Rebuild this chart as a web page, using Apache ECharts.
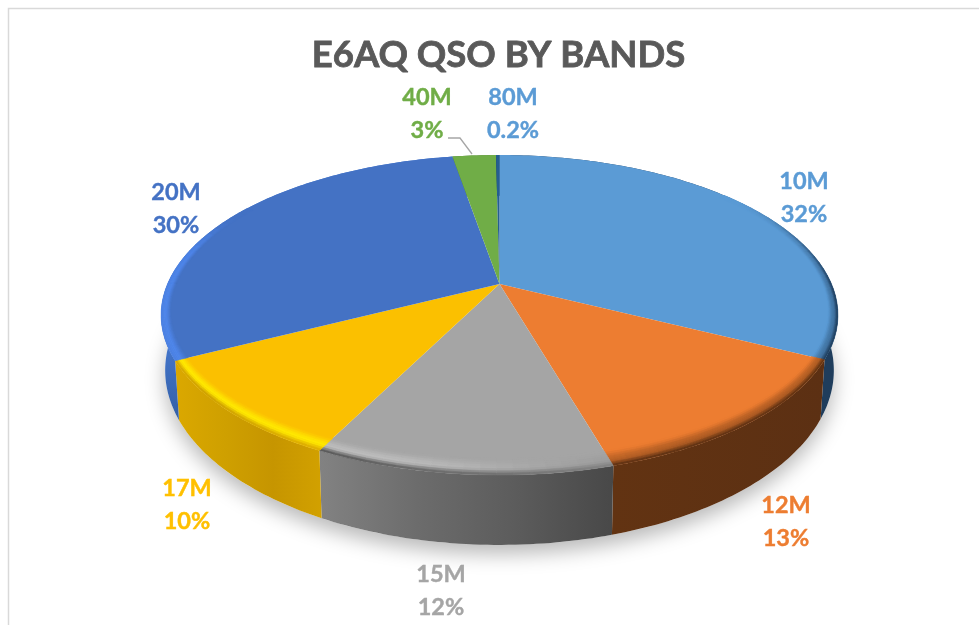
<!DOCTYPE html>
<html><head><meta charset="utf-8">
<style>html,body{margin:0;padding:0;background:#fff}#c{width:979px;height:625px}</style>
<script src="https://cdn.jsdelivr.net/npm/echarts@6/dist/echarts.min.js"></script>
</head><body><div id="c"></div>
<script>
// ---- data ----
const titleText = 'E6AQ QSO BY BANDS';
const bands  = ['10M','12M','15M','17M','20M','40M','80M'];
const values = [32.4, 13.1, 11.9, 10.1, 29.8, 2.5, 0.2];
// ---- styles ----
const topColors   = ['#5B9BD5','#ED7D31','#A5A5A5','#FBC000','#4472C4','#70AD47','#255E91'];
const labelColors = ['#5B9BD5','#ED7D31','#A5A5A5','#FFC000','#4472C4','#70AD47','#5B9BD5'];
const wallStops = [
  ['#1f3d5c','#1f3d5c'],
  ['#623312','#5c3013'],
  ['#828282','#6c6c6c','#5c5c5c','#484848'],
  ['#dba800','#cfa000','#c69500','#d2a100'],
  ['#3b66ae','#3b66ae'],
  ['#4a7a30','#4a7a30'],
  ['#173d5f','#173d5f']
];
const bevelHi = ['#5B9BD5','#ED7D31','#bcbcbc','#ffe800','#4f86ea','#70AD47','#255E91'];
// ---- layout ----
const cx = 499.5, cy = 284, A = 332, B = 154, k = 0.194;
const A2 = 328, cy2 = 336.5, B2 = 168;
const labelCenters = [[804,198],[786,522],[441,591],[187,505],[176,209],[427,114],[513,114]];
const leader = [[448,138],[460,138],[472,154]];
const total = values.reduce((a,b)=>a+b,0);
let acc = 0;
const sliceData = values.map(v => { const s = acc; acc += v; return [s, acc, v]; });

const rad = d => d*Math.PI/180;
function topPt(theta, r){ const v=-r*Math.cos(rad(theta)), u=r*Math.sin(rad(theta)), d=1-k*v; return [cx+A*u/d, cy+B*v/d]; }
function botPt(theta){ const v=-Math.cos(rad(theta)), u=Math.sin(rad(theta)), d=1-k*v; return [cx+A2*u/d, cy2+B2*v/d]; }
const toTheta = x => x/total*360;
function samples(a,b,step){ const out=[]; const n=Math.max(1,Math.ceil((b-a)/step)); for(let i=0;i<=n;i++) out.push(a+(b-a)*i/n); return out; }
const hex = c => [1,3,5].map(i=>parseInt(c.substr(i,2),16));
const mix = (a,b,t) => a.map((x,i)=>x+(b[i]-x)*t);
const css = c => 'rgb('+c.map(Math.round).join(',')+')';
const sstep = (a,b,x) => { const t=Math.min(1,Math.max(0,(x-a)/(b-a))); return t*t*(3-2*t); };
function wallAt(i,f){ const s=wallStops[i].map(hex); const p=f*(s.length-1); const j=Math.min(s.length-2,Math.floor(p)); return mix(s[j],s[j+1],p-j); }
function bevelR(theta,p){ const v=Math.max(0,-Math.cos(rad(theta))); return 1-(0.028+0.045*v*v)*(1-p); }

function renderShadow(params, api){
  const pts = samples(0,360,2).map(botPt);
  return {type:'polygon', silent:true, shape:{points:pts},
    style:{fill:'#ffffff', shadowBlur:20, shadowColor:'rgba(0,0,0,0.28)', shadowOffsetX:0, shadowOffsetY:9}};
}
function renderWall(params, api){
  const i=params.dataIndex, a=toTheta(api.value(0)), b=toTheta(api.value(1));
  const ts=samples(a,b,1);
  const pts=ts.map(t=>topPt(t,1)).concat(ts.slice().reverse().map(botPt));
  const n=wallStops[i].length;
  const fill = i===4
    ? {type:'linear',global:true,x:0,y:330,x2:0,y2:420,colorStops:[{offset:0,color:'#4679d2'},{offset:1,color:'#3460a6'}]}
    : {type:'linear',x:0,y:0,x2:1,y2:0,colorStops:wallStops[i].map((c,j)=>({offset:j/(n-1),color:c}))};
  return {type:'polygon', silent:true, shape:{points:pts}, style:{fill:fill}};
}
function renderTop(params, api){
  const i=params.dataIndex, a=toTheta(api.value(0)), b=toTheta(api.value(1));
  const pts=[topPt(0,0)].concat(samples(a,b,1).map(t=>topPt(t,1)));
  return {type:'polygon', silent:true, shape:{points:pts}, style:{fill:topColors[i]}};
}
function renderBevel(params, api){
  const i=params.dataIndex, a=toTheta(api.value(0)), b=toTheta(api.value(1));
  const kids=[], strips=8;
  const top=hex(topColors[i]), hi=hex(bevelHi[i]);
  const ts=samples(a,b,2.5);
  for(let q=0;q<ts.length-1;q++){
    const t0=ts[q], t1=ts[q+1], tm=(t0+t1)/2;
    const fade=sstep(50,95,tm)*(1-sstep(280,302,tm));
    if(fade<=0) continue;
    const h=sstep(150,198,tm)*(1-sstep(285,315,tm));
    const wall=wallAt(i,(tm-a)/(b-a));
    const mid=mix(mix(top,wall,0.4),hi,h);
    const edge=mix(wall,hi,h*(i===4?0.9:0.1));
    for(let s=0;s<strips;s++){
      const p=(s+0.5)/strips;
      let col = p<0.6 ? mix(top,mid,sstep(0,0.6,p)) : mix(mid,edge,sstep(0.6,1,p));
      col=mix(top,col,fade);
      const c=css(col);
      kids.push({type:'polygon', silent:true,
        shape:{points:[topPt(t0,bevelR(t0,s/strips)),topPt(t1,bevelR(t1,s/strips)),topPt(t1,bevelR(t1,(s+1)/strips)),topPt(t0,bevelR(t0,(s+1)/strips))]},
        style:{fill:c, stroke:c, lineWidth:0.5}});
    }
  }
  return {type:'group', children:kids};
}
const fmtPct = v => v<1 ? v.toFixed(1)+'%' : Math.round(v)+'%';
function renderLabel(params, api){
  const i=params.dataIndex, p=labelCenters[i];
  const kids=[{type:'text', silent:true, style:{x:p[0],y:p[1],text:bands[i]+'\n'+fmtPct(api.value(2)),
    fill:labelColors[i], stroke:labelColors[i], lineWidth:0.4, fontFamily:'Lato', fontWeight:'bold', fontSize:23.5, lineHeight:33, align:'center', verticalAlign:'middle'}}];
  if(i===5) kids.push({type:'polyline', silent:true, shape:{points:leader}, style:{fill:'none',stroke:'#a6a6a6',lineWidth:1.3}});
  return {type:'group', children:kids};
}
const layer=(fn,z)=>({type:'custom',coordinateSystem:'none',renderItem:fn,data:sliceData,z:z,silent:true,animation:false,clip:false});
const chart=echarts.init(document.getElementById('c'));
chart.setOption({
  animation:false,
  backgroundColor:'#ffffff',
  title:{text:titleText,left:493.5,top:32,textAlign:'center',
    textStyle:{fontFamily:'Lato',fontWeight:'bold',fontSize:36.5,color:'#595959',textBorderColor:'#595959',textBorderWidth:0.8}},
  graphic:[{type:'polyline',silent:true,shape:{points:[[8.5,630],[8.5,8.5],[985,8.5]]},style:{fill:'none',stroke:'#d9d9d9',lineWidth:1.5}}],
  series:[
    {type:'custom',coordinateSystem:'none',renderItem:renderShadow,data:[[0]],z:1,silent:true,animation:false},
    layer(renderWall,2),
    layer(renderTop,3),
    layer(renderBevel,4),
    layer(renderLabel,5)
  ]
});
</script></body></html>
